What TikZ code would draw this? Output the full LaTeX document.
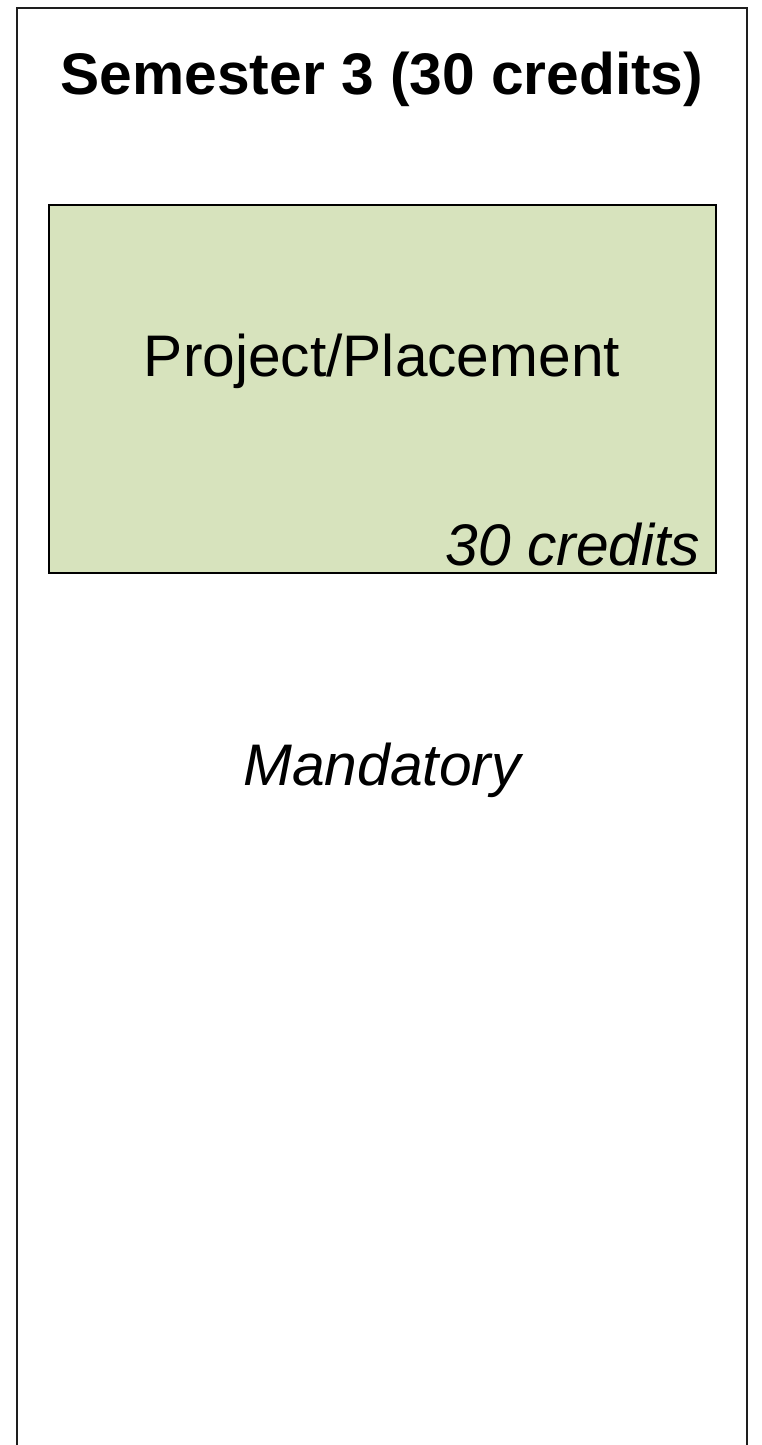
\documentclass[tikz,border=0pt]{standalone}
\usepackage{fontspec}
\setmainfont{Liberation Sans}

\tikzset{every picture/.style={line width=1.5pt}}

\begin{document}
\begin{tikzpicture}[x=0.75pt,y=0.75pt,yscale=-1,xscale=1]
        \useasboundingbox (0,0) rectangle (761,1445);
        %Shape: Open Rectangle [id:semesterframe] 
        \draw  [color={rgb, 255:red, 30; green, 30; blue, 30 }  ] (17,1460) -- (17,8) -- (747,8) -- (747,1460) ;
        %Shape: Rectangle [id:projectbox] 
        \draw  [fill={rgb, 255:red, 215; green, 227; blue, 189 }  ,fill opacity=1 ] (49,205) rectangle (716,573) ;
        % Text Node
        \draw (382,79) node (semtitle) [inner sep=0.75pt]  [font=\fontsize{44}{50}\selectfont\bfseries]  {Semester 3 (30 credits)};
        % Text Node
        \draw (382,361) node (projname) [inner sep=0.75pt]  [font=\fontsize{44}{50}\selectfont]  {Project/Placement};
        % Text Node
        \draw (702,545) node (projcredits) [anchor=east][inner sep=0.75pt]  [font=\fontsize{44}{50}\selectfont\itshape]  {30 credits};
        % Text Node
        \draw (382,770) node (mandlabel) [inner sep=0.75pt]  [font=\fontsize{44}{50}\selectfont\itshape]  {Mandatory};
    \end{tikzpicture}
\end{document}
